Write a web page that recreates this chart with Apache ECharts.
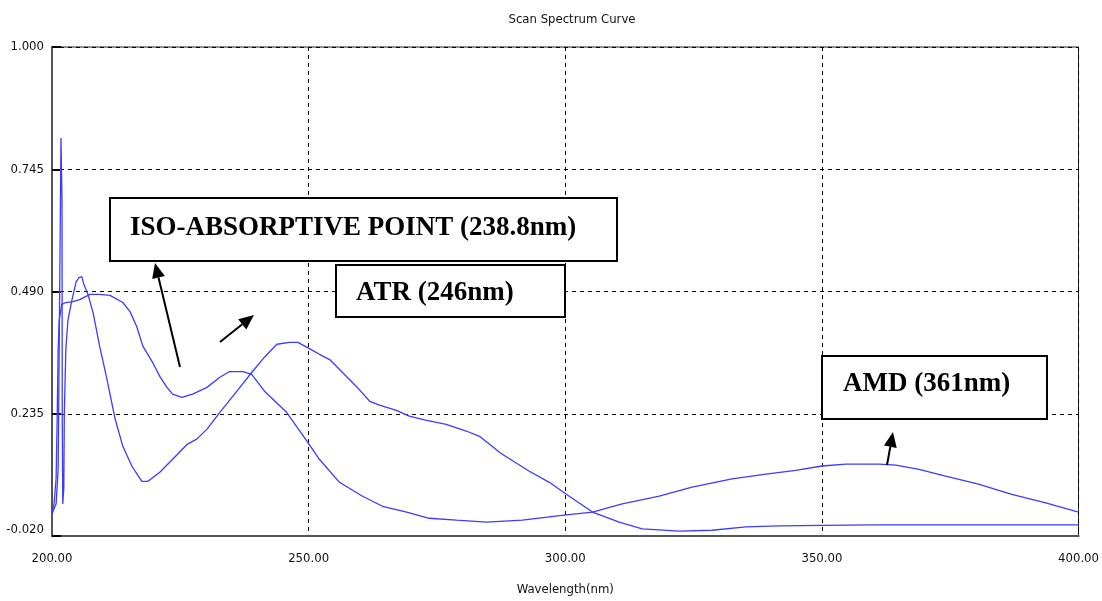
<!DOCTYPE html>
<html><head><meta charset="utf-8">
<script src="https://cdn.jsdelivr.net/npm/echarts@6/dist/echarts.min.js"></script>
<style>html,body{margin:0;padding:0;background:#fff}#c{width:1102px;height:601px}</style>
</head><body><div id="c"></div>
<script>
// ---- data ----
const wavelengthA = [200.0,200.8,201.2,201.4,201.6,201.75,201.95,202.0,202.1,202.3,202.4,202.7,203.1,203.9,204.7,205.25,205.8,206.2,207.0,208.0,209.3,210.7,212.3,213.8,215.6,217.5,218.7,221.0,223.5,226.3,228.2,230.2,232.7,236.3,238.9,241.4,243.8,246.3,247.9,249.8,252.1,254.1,256.6,259.3,261.9,263.8,267.1,269.6,273.0,276.8,280.7,283.3,287.5,293.0,296.9,300.2,305.3,310.5,315.0,322.2,328.6,335.2,341.6,350,360,370,380,390,400];
const absorbA = [0.026,0.047,0.12,0.37,0.62,0.81,0.68,0.22,0.047,0.08,0.236,0.37,0.43,0.473,0.51,0.519,0.521,0.505,0.484,0.446,0.375,0.307,0.224,0.167,0.125,0.094,0.094,0.113,0.14,0.171,0.182,0.203,0.238,0.286,0.321,0.353,0.38,0.384,0.384,0.373,0.359,0.348,0.321,0.292,0.261,0.253,0.242,0.23,0.221,0.213,0.199,0.188,0.152,0.115,0.092,0.067,0.03,0.009,-0.005,-0.01,-0.008,-0.001,0.001,0.002,0.003,0.003,0.003,0.003,0.003];
const wavelengthB = [200.0,200.4,200.8,201.0,201.2,201.4,201.9,202.7,204.1,205.4,207.4,209.3,211.3,213.8,215.2,216.5,217.7,219.6,221.0,222.4,223.5,225.3,227.4,230.2,232.7,234.6,237.2,238.9,241.4,245.7,249.8,252.1,256.0,260.5,264.4,269.1,273.5,278.8,284.6,291.6,300.2,305.3,311.1,318.3,324.7,332.5,339.1,344.9,350.0,354.7,361.1,364.4,368.9,374.1,380.5,387.0,393.6,400.0];
const absorbB = [0.026,0.047,0.1,0.22,0.37,0.43,0.463,0.467,0.469,0.473,0.484,0.484,0.482,0.467,0.448,0.417,0.376,0.342,0.313,0.29,0.276,0.269,0.276,0.29,0.311,0.323,0.323,0.317,0.282,0.238,0.176,0.14,0.092,0.063,0.042,0.03,0.017,0.013,0.009,0.013,0.024,0.03,0.047,0.063,0.082,0.099,0.109,0.117,0.126,0.13,0.13,0.128,0.119,0.105,0.088,0.067,0.049,0.03];
const yTickLabels = ['-0.020','0.235','0.490','0.745','1.000'];
const xTickLabels = ['200.00','250.00','300.00','350.00','400.00'];
const titleText = 'Scan Spectrum Curve';
const xAxisName = 'Wavelength(nm)';
const annotations = ['ISO-ABSORPTIVE POINT (238.8nm)','ATR (246nm)','AMD (361nm)'];

const yMin = -0.02, yMax = 1.0, yStep = 0.255;
const xMin = 200, xMax = 400, xStep = 50;
const narrow = "'Liberation Sans Narrow','Arial Narrow','DejaVu Sans Condensed','Liberation Sans',sans-serif";
const serif = "'Liberation Serif','Times New Roman',serif";
const lineColor = '#3c3cff';

function zip(xs, ys){ return xs.map((x,i)=>[x, ys[i]]); }

function arrow(x1,y1,x2,y2){
  const dx=x2-x1, dy=y2-y1, len=Math.hypot(dx,dy);
  const ux=dx/len, uy=dy/len, L=15, W=13;
  const bx=x2-ux*L, by=y2-uy*L, px=-uy, py=ux;
  return [
    {type:'line', shape:{x1:x1,y1:y1,x2:bx,y2:by}, style:{stroke:'#000',lineWidth:2}, z:100},
    {type:'polygon', shape:{points:[[x2,y2],[bx+px*W/2,by+py*W/2],[bx-px*W/2,by-py*W/2]]}, style:{fill:'#000'}, z:100}
  ];
}
function box(x,y,w,h,text,tx,ty){
  return [
    {type:'rect', shape:{x:x,y:y,width:w,height:h}, style:{fill:'#fff',stroke:'#000',lineWidth:2}, z:100},
    {type:'text', x:tx, y:ty, style:{text:text, font:"bold 27px "+serif, fill:'#000', align:'left', verticalAlign:'top'}, z:101}
  ];
}

const chart = echarts.init(document.getElementById('c'), null, {renderer:'canvas'});
const option = {
  backgroundColor:'#fff',
  animation:false,
  title:{text:titleText, left:567, top:8, textAlign:'center',
    textStyle:{fontFamily:narrow, fontSize:13, fontWeight:'normal', color:'#111'}},
  grid:{left:52, right:22, top:47, bottom:64, show:true, borderColor:'#222', borderWidth:1, backgroundColor:'transparent'},
  xAxis:{type:'value', min:xMin, max:xMax, interval:xStep,
    name:xAxisName, nameLocation:'middle', nameGap:47,
    nameTextStyle:{fontFamily:narrow, fontSize:13, color:'#111'},
    axisLine:{show:true, onZero:false, lineStyle:{color:'#555', width:2}},
    axisTick:{show:false},
    axisLabel:{margin:16, fontFamily:narrow, fontSize:13, color:'#111',
      formatter:v=>xTickLabels[Math.round((v-xMin)/xStep)] || ''},
    splitLine:{show:true, lineStyle:{color:'#000', type:[4,4], width:1}}},
  yAxis:{type:'value', min:yMin, max:yMax, interval:yStep,
    axisLine:{show:true, onZero:false, lineStyle:{color:'#555', width:2}},
    axisTick:{show:true, inside:true, length:9, lineStyle:{color:'#000', width:2}},
    axisLabel:{margin:8, fontFamily:narrow, fontSize:13, color:'#111', verticalAlignMinLabel:'bottom',
      formatter:v=>yTickLabels[Math.round((v-yMin)/yStep)] || ''},
    splitLine:{show:true, lineStyle:{color:'#000', type:[4,4], width:1}}},
  series:[
    {type:'line', data:zip(wavelengthA, absorbA), showSymbol:false, smooth:false,
      lineStyle:{color:lineColor, width:1.3}, z:5},
    {type:'line', data:zip(wavelengthB, absorbB), showSymbol:false, smooth:false,
      lineStyle:{color:lineColor, width:1.3}, z:5}
  ],
  graphic:[].concat(
    box(110,198,507,63,annotations[0],130,215),
    box(336,265,229,52,annotations[1],356,280),
    box(822,356,225,63,annotations[2],843,371),
    arrow(180,367,155,263),
    arrow(220,342,254,315),
    arrow(887,465,893,432)
  )
};
chart.setOption(option);
</script>
</body></html>
